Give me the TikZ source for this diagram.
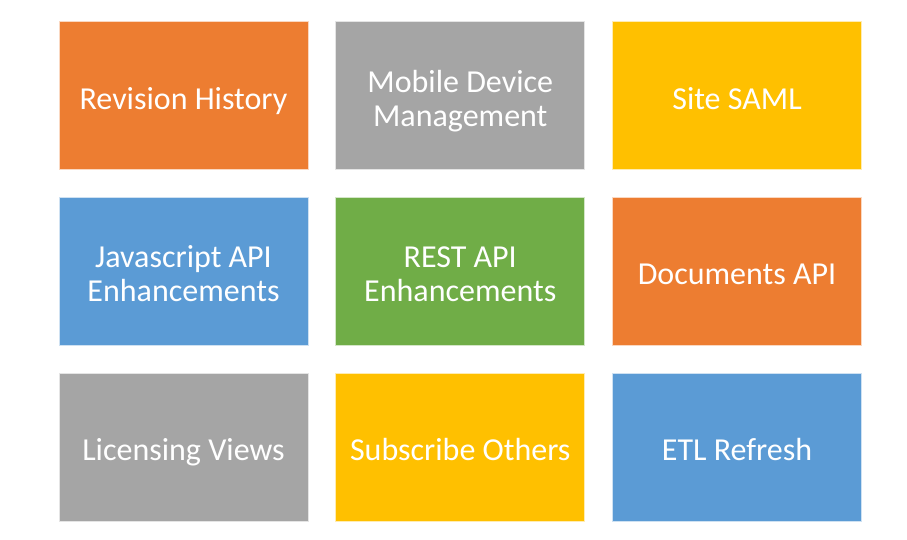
\documentclass[tikz,border=0pt]{standalone}
\usepackage{fontspec}
\setmainfont{Carlito}
\definecolor{tileorange}{HTML}{ED7D31}
\definecolor{tilegray}{HTML}{A5A5A5}
\definecolor{tilegold}{HTML}{FFC000}
\definecolor{tileblue}{HTML}{5B9BD5}
\definecolor{tilegreen}{HTML}{70AD47}
\begin{document}
\begin{tikzpicture}[x=1pt,y=-1pt,
  tile/.style={rectangle, minimum width=249pt, minimum height=148pt, inner sep=0pt,
    draw=white!70!#1, line width=0.6pt, fill=#1, text=white, align=center,
    font=\fontsize{32}{34}\selectfont},
  % one-line caption: baseline sits 13.8pt below the tile centre
  oneline/.style={text height=27.6pt, text depth=0pt},
  % two-line caption: last baseline sits 30.5pt below the tile centre
  twoline/.style={text height=61pt, text depth=0pt}]
  \useasboundingbox (0,0) rectangle (907,539);
  % row 1
  \node[tile=tileorange, oneline] (rev)  at (183.5,95.5)  {Revision History};
  \node[tile=tilegray,   twoline] (mdm)  at (460.25,95.5) {Mobile Device\\Management};
  \node[tile=tilegold,   oneline] (saml) at (737,95.5)    {Site SAML};
  % row 2
  \node[tile=tileblue,   twoline] (js)   at (183.5,271)   {Javascript API\\Enhancements};
  \node[tile=tilegreen,  twoline] (rest) at (460.25,271)  {REST API\\Enhancements};
  \node[tile=tileorange, oneline] (docs) at (737,271)     {Documents API};
  % row 3
  \node[tile=tilegray,   oneline] (lic)  at (183.5,447)   {Licensing Views};
  \node[tile=tilegold,   oneline] (subs) at (460.25,447)  {Subscribe Others};
  \node[tile=tileblue,   oneline] (etl)  at (737,447)     {ETL Refresh};
\end{tikzpicture}
\end{document}
